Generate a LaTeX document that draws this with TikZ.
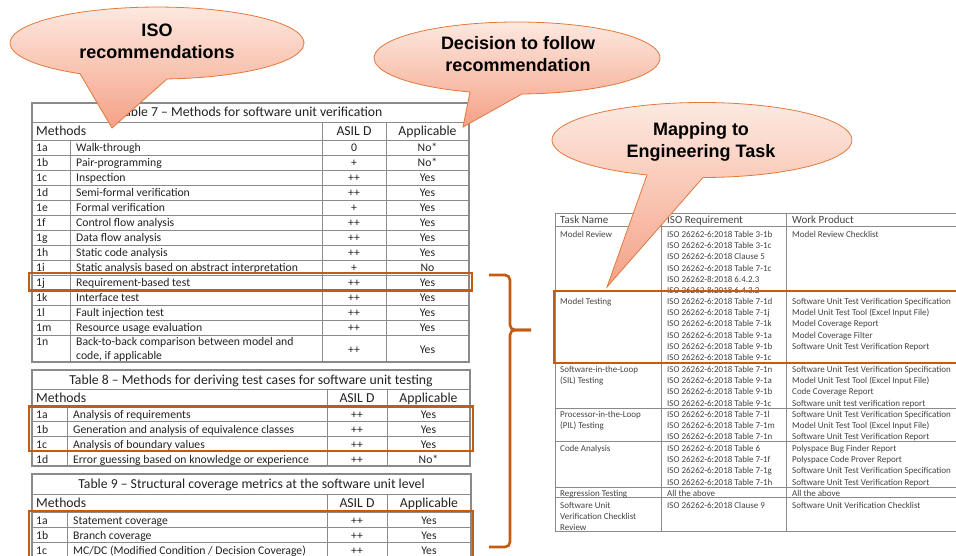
\documentclass[tikz,border=0pt]{standalone}
\usepackage{fontspec}
\setmainfont{Carlito}
\newfontfamily\bubblefont{Liberation Sans}
\usetikzlibrary{positioning}

\definecolor{hilite}{HTML}{C55A11}
\definecolor{gridgray}{HTML}{8A8A8A}
\definecolor{inkgray}{HTML}{222222}
\definecolor{bubbleedge}{HTML}{E2793B}
\definecolor{bubbletop}{HTML}{FDEBE3}
\definecolor{bubblebot}{HTML}{F5A186}

\tikzset{
  cell/.style={inner sep=0pt, anchor=west, text=inkgray,
    text height=1.0em, text depth=0.1em, font=\fontsize{11.7}{14}\selectfont},
  midcell/.style={cell, anchor=center},
  headcell/.style={cell, anchor=center, font=\fontsize{13.7}{16}\selectfont},
  taskcell/.style={cell, text=inkgray!85, font=\fontsize{9}{11.2}\selectfont},
  taskhead/.style={cell, text=inkgray!85, font=\fontsize{11}{13}\selectfont},
  gridline/.style={gridgray, line width=0.8pt},
  tableframe/.style={gridgray, line width=1.2pt},
  hibox/.style={hilite, line width=2.6pt},
  bubble/.style={draw=bubbleedge, line width=0.8pt, top color=bubbletop, bottom color=bubblebot},
  bubbletext/.style={align=center, font=\bubblefont\bfseries\fontsize{18}{22}\selectfont}
}

% one text line per entry, 11.2pt apart
\newcommand{\tasklines}[4]{%
  \foreach [count=\k] \t in {#4}
    \node[taskcell] (#3\k) at (#1,#2+11.2*\k-11.2) {\t};}

\begin{document}
\begin{tikzpicture}[x=1pt,y=-1pt]
\useasboundingbox (0,0) rectangle (956,556);

% Table 7
\draw[tableframe] (32,103) rectangle (469,362);
\draw[gridline] (32,122) -- (469,122);
\foreach \y in {140,155,...,335}
  \draw[gridline] (32,\y) -- (469,\y);
\draw[gridline] (70,140) -- (70,362) (322,122) -- (322,362) (386,122) -- (386,362);
\node[headcell] (t7title) at (250.5,112.5) {Table 7 – Methods for software unit verification};
\node[headcell,anchor=west] (t7meth) at (36,131) {Methods};
\node[headcell] (t7asil) at (354,131) {ASIL D};
\node[headcell] (t7appl) at (427.5,131) {Applicable};
\foreach [count=\i] \c/\m/\a/\p in {1a/Walk-through/0/No*, 1b/Pair-programming/+/No*,
    1c/Inspection/++/Yes, 1d/Semi-formal verification/++/Yes, 1e/Formal verification/+/Yes,
    1f/Control flow analysis/++/Yes, 1g/Data flow analysis/++/Yes, 1h/Static code analysis/++/Yes,
    1i/Static analysis based on abstract interpretation/+/No, 1j/Requirement-based test/++/Yes,
    1k/Interface test/++/Yes, 1l/Fault injection test/++/Yes, 1m/Resource usage evaluation/++/Yes}{
  \node[cell] (t7c\i) at (36,132+15*\i) {\c};
  \node[cell] (t7m\i) at (76,132+15*\i) {\m};
  \node[midcell] (t7a\i) at (354,132+15*\i) {\a};
  \node[midcell] (t7p\i) at (427.5,132+15*\i) {\p};
}
\node[cell] (t7c14) at (36,341) {1n};
\node[cell] (t7m14) at (76,341) {Back-to-back comparison between model and};
\node[cell] (t7m14b) at (76,355) {code, if applicable};
\node[midcell] (t7a14) at (354,348.5) {++};
\node[midcell] (t7p14) at (427.5,348.5) {Yes};

% Table 8
\draw[tableframe] (32,370) rectangle (470,466);
\foreach \y in {389,406,421,436,451}
  \draw[gridline] (32,\y) -- (470,\y);
\draw[gridline] (67,406) -- (67,466) (327,389) -- (327,466) (387,389) -- (387,466);
\node[headcell] (t8title) at (251,379.5) {Table 8 – Methods for deriving test cases for software unit testing};
\node[headcell,anchor=west] (t8meth) at (36,397.5) {Methods};
\node[headcell] (t8asil) at (357,397.5) {ASIL D};
\node[headcell] (t8appl) at (428.5,397.5) {Applicable};
\foreach [count=\i] \c/\m/\a/\p in {1a/Analysis of requirements/++/Yes,
    1b/Generation and analysis of equivalence classes/++/Yes,
    1c/Analysis of boundary values/++/Yes,
    1d/Error guessing based on knowledge or experience/++/No*}{
  \node[cell] (t8c\i) at (36,398.5+15*\i) {\c};
  \node[cell] (t8m\i) at (73,398.5+15*\i) {\m};
  \node[midcell] (t8a\i) at (357,398.5+15*\i) {\a};
  \node[midcell] (t8p\i) at (428.5,398.5+15*\i) {\p};
}

% Table 9
\draw[tableframe] (32,557) -- (32,474) -- (471,474) -- (471,557);
\foreach \y in {494,512,527,542}
  \draw[gridline] (32,\y) -- (471,\y);
\draw[gridline] (67,512) -- (67,557) (327,494) -- (327,557) (387,494) -- (387,557);
\node[headcell] (t9title) at (251.5,484) {Table 9 – Structural coverage metrics at the software unit level};
\node[headcell,anchor=west] (t9meth) at (36,503) {Methods};
\node[headcell] (t9asil) at (357,503) {ASIL D};
\node[headcell] (t9appl) at (429,503) {Applicable};
\foreach [count=\i] \c/\m/\a/\p in {1a/Statement coverage/++/Yes, 1b/Branch coverage/++/Yes,
    1c/{MC/DC (Modified Condition / Decision Coverage)}/++/Yes}{
  \node[cell] (t9c\i) at (36,505+15*\i) {\c};
  \node[cell] (t9m\i) at (73,505+15*\i) {\m};
  \node[midcell] (t9a\i) at (357,505+15*\i) {\a};
  \node[midcell] (t9p\i) at (429,505+15*\i) {\p};
}

% task table
\draw[gridline] (956,213) -- (555,213) -- (555,531) -- (956,531);
\foreach \y in {226,291,363,408,441,487,497}
  \draw[gridline] (555,\y) -- (956,\y);
\draw[gridline] (661,213) -- (661,531) (786,213) -- (786,531);
\node[taskhead] (taskname) at (560,219.5) {Task Name};
\node[taskhead] (isoreq) at (667,219.5) {ISO Requirement};
\node[taskhead] (workprod) at (792,219.5) {Work Product};

\tasklines{560}{233}{mrtask}{Model Review}
\tasklines{667}{233}{mriso}{ISO 26262-6:2018 Table 3-1b, ISO 26262-6:2018 Table 3-1c,
  ISO 26262-6:2018 Clause 5, ISO 26262-6:2018 Table 7-1c, ISO 26262-8:2018 6.4.2.3,
  ISO 26262-8:2018 6.4.3.2}
\tasklines{792}{233}{mrwork}{Model Review Checklist}

\tasklines{560}{300}{mttask}{Model Testing}
\tasklines{667}{300}{mtiso}{ISO 26262-6:2018 Table 7-1d, ISO 26262-6:2018 Table 7-1j,
  ISO 26262-6:2018 Table 7-1k, ISO 26262-6:2018 Table 9-1a, ISO 26262-6:2018 Table 9-1b,
  ISO 26262-6:2018 Table 9-1c}
\tasklines{792}{300}{mtwork}{Software Unit Test Verification Specification,
  Model Unit Test Tool (Excel Input File), Model Coverage Report, Model Coverage Filter,
  Software Unit Test Verification Report}

\tasklines{560}{368}{siltask}{Software-in-the-Loop, (SIL) Testing}
\tasklines{667}{368}{siliso}{ISO 26262-6:2018 Table 7-1n, ISO 26262-6:2018 Table 9-1a,
  ISO 26262-6:2018 Table 9-1b, ISO 26262-6:2018 Table 9-1c}
\tasklines{792}{368}{silwork}{Software Unit Test Verification Specification,
  Model Unit Test Tool (Excel Input File), Code Coverage Report,
  Software unit test verification report}

\tasklines{560}{413}{piltask}{Processor-in-the-Loop, (PIL) Testing}
\tasklines{667}{413}{piliso}{ISO 26262-6:2018 Table 7-1l, ISO 26262-6:2018 Table 7-1m,
  ISO 26262-6:2018 Table 7-1n}
\tasklines{792}{413}{pilwork}{Software Unit Test Verification Specification,
  Model Unit Test Tool (Excel Input File), Software Unit Test Verification Report}

\tasklines{560}{447}{catask}{Code Analysis}
\tasklines{667}{447}{caiso}{ISO 26262-6:2018 Table 6, ISO 26262-6:2018 Table 7-1f,
  ISO 26262-6:2018 Table 7-1g, ISO 26262-6:2018 Table 7-1h}
\tasklines{792}{447}{cawork}{Polyspace Bug Finder Report, Polyspace Code Prover Report,
  Software Unit Test Verification Specification, Software Unit Test Verification Report}

\tasklines{560}{492}{rttask}{Regression Testing}
\tasklines{667}{492}{rtiso}{All the above}
\tasklines{792}{492}{rtwork}{All the above}

\tasklines{560}{504}{cltask}{Software Unit, Verification Checklist, Review}
\tasklines{667}{504}{cliso}{ISO 26262-6:2018 Clause 9}
\tasklines{792}{504}{clwork}{Software Unit Verification Checklist}

% highlights and brace
\draw[hibox] (29,273) rectangle (472,290.5);
\draw[hibox] (29,406.5) rectangle (473,451);
\draw[hibox] (29,557) -- (29,511) -- (473,511) -- (473,557);
\draw[hibox] (957,291) -- (554,291) -- (554,363) -- (957,363);
\draw[hibox, rounded corners=5pt] (489,275) -- (510,275) -- (510,330) -- (531,330);
\draw[hibox, rounded corners=5pt] (531,330) -- (510,330) -- (510,547) -- (489,547);

% callouts
\coordinate (isotip) at (112,128);
\coordinate (decisiontip) at (463,127);
\coordinate (mappingtip) at (607,287);
\shadedraw[bubble] (80.0,73.7) arc[start angle=121.6, end angle=446.1, x radius=147, y radius=36]
  -- (isotip) -- cycle;
\shadedraw[bubble] (470.0,92.0) arc[start angle=109.2, end angle=448.0, x radius=143, y radius=36]
  -- (decisiontip) -- cycle;
\shadedraw[bubble] (647.0,174.9) arc[start angle=111.5, end angle=449.6, x radius=150, y radius=37.5]
  -- (mappingtip) -- cycle;
\node[bubbletext] (isotext) at (157,41) {ISO\\recommendations};
\node[bubbletext] (decisiontext) at (518,54) {Decision to follow\\recommendation};
\node[bubbletext] (mappingtext) at (701,141.5) {Mapping to\\Engineering Task};
\end{tikzpicture}
\end{document}
